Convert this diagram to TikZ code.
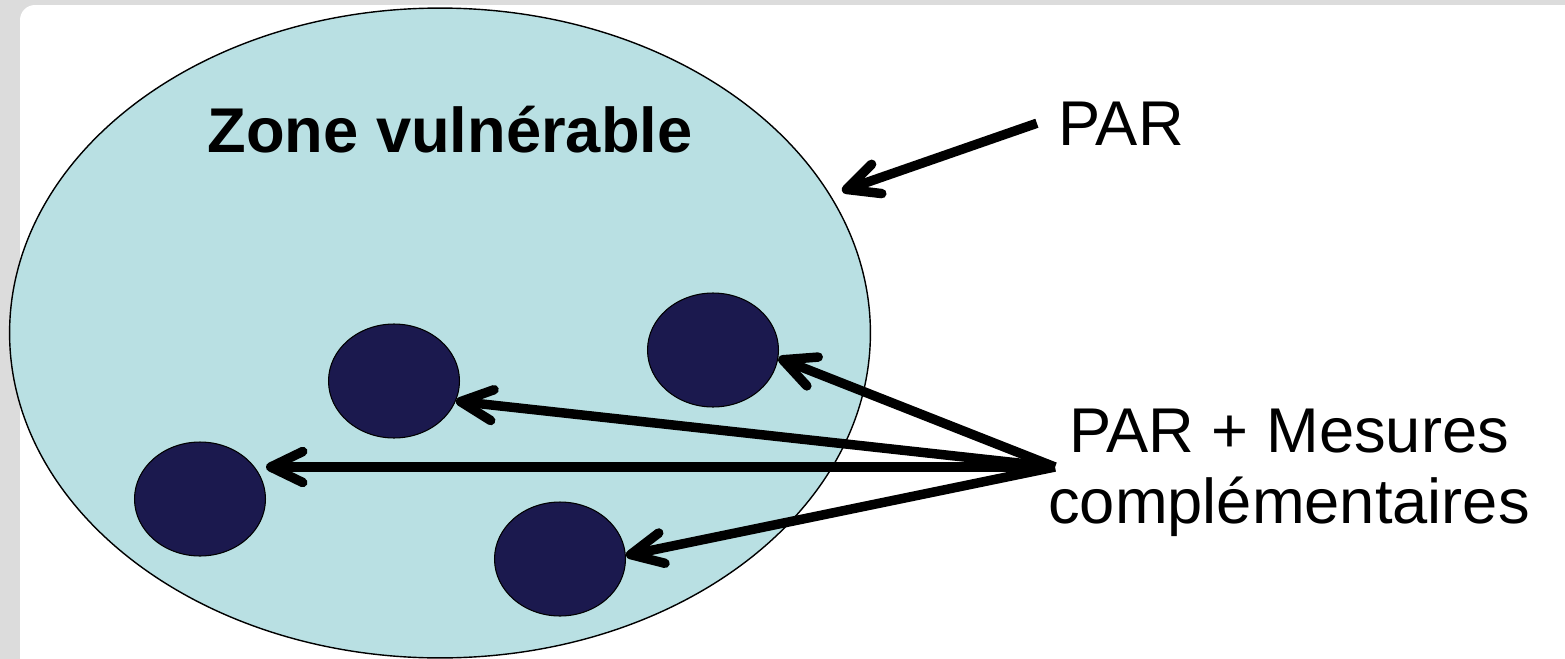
\documentclass[tikz,border=0pt]{standalone}
\usepackage{fontspec}
\setmainfont{Liberation Sans}
\usetikzlibrary{arrows.meta, shapes.geometric, positioning}

\definecolor{zonebleu}{RGB}{185,224,227}
\definecolor{marine}{RGB}{27,25,78}
\definecolor{fondgris}{RGB}{220,220,220}

\begin{document}
\begin{tikzpicture}[x=0.02cm, y=-0.02cm, >={Straight Barb[length=0.64cm, width=0.62cm, round]},
    every node/.style={font=\fontsize{36}{40}\selectfont},
    zone/.style={ellipse, draw, line width=0.8pt, fill=zonebleu, minimum width=17.22cm, minimum height=13cm, inner sep=0pt},
    site/.style={ellipse, draw, line width=0.6pt, fill=marine, minimum width=2.62cm, minimum height=2.28cm, inner sep=0pt},
    fleche/.style={->, line width=5.4pt}]

    % fond
    \useasboundingbox (0,0) rectangle (1565,659);
    \fill[fondgris] (0,0) rectangle (1565,659);
    \fill[white, rounded corners=0.3cm] (20,5) rectangle (1640,720);

    \node[zone]          (Z)  at (440,333) {};
    \node[site]          (S1) at (394,381) {};
    \node[site]          (S2) at (200,499) {};
    \node[site]          (S3) at (713,350) {};
    \node[site]          (S4) at (560,559) {};

    \node[font=\fontsize{36}{40}\selectfont\bfseries, anchor=base] (ZV) at (450,152) {Zone vuln\'erable};
    \node[anchor=base, inner sep=12pt] (PAR) at (1121,145) {PAR};
    \node[anchor=base, align=center] (MES) at (1289,523) {PAR + Mesures\\compl\'ementaires};

    \coordinate (src) at (1055,467);
    \coordinate (pointe) at (842,191);

    \path[fleche] (PAR.west) edge   (pointe)
            (src) edge   (S3.-7)
            (src) edge   (S1.-18)
            (src) edge   (S2.east |- src)
            (src) edge   (S4.3)
            ;
\end{tikzpicture}
\end{document}
